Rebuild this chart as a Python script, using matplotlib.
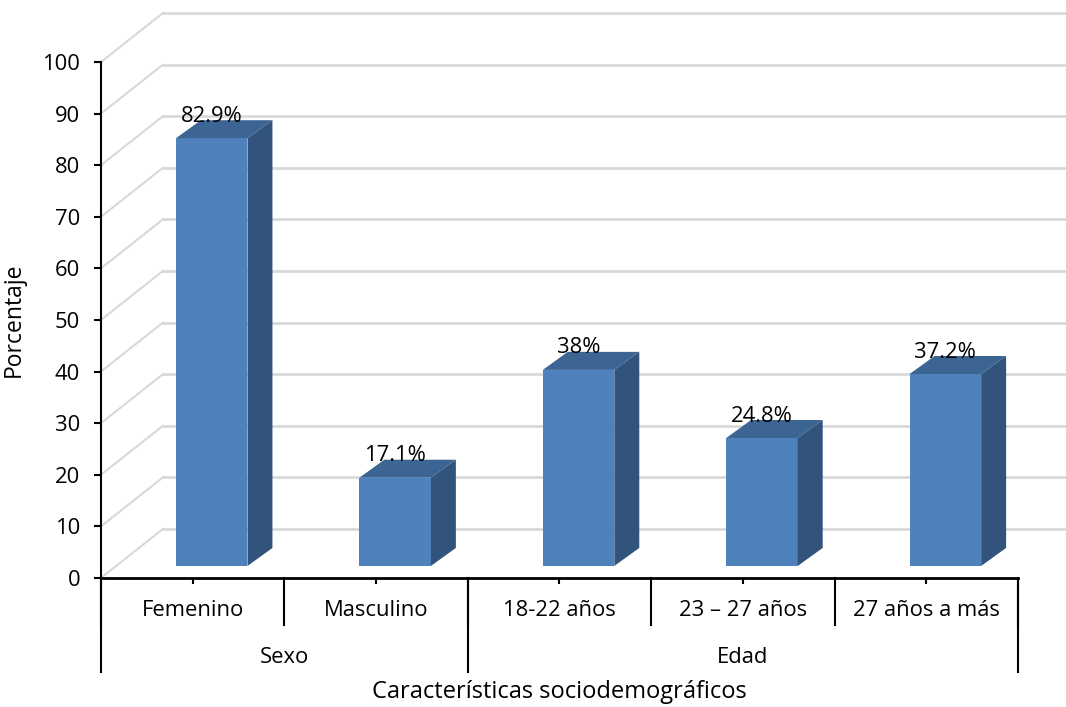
import matplotlib
matplotlib.use("Agg")
import matplotlib.pyplot as plt
import matplotlib.transforms as mtransforms
from matplotlib.patches import Polygon

# ---------------- DATA ----------------
categories = ["Femenino", "Masculino", "18-22 años", "23 – 27 años", "27 años a más"]
values = [82.9, 17.1, 38, 24.8, 37.2]
value_labels = ["82.9%", "17.1%", "38%", "24.8%", "37.2%"]
groups = ["Sexo", "Edad"]
group_sizes = [2, 3]
yticks = list(range(0, 101, 10))

# ---------------- STYLE ----------------
plt.rcParams['font.family'] = ['Open Sans', 'DejaVu Sans']
FRONT = "#4F81BD"
TOP = "#3C6594"
SIDE = "#32537B"
GRID = "#d9d9d9"
FS = 15.8

# pseudo-3D offsets (data units)
front_dx, front_dy = 0.104, 2.33   # bar front plane offset from axis plane
depth_dx, depth_dy = 0.136, 3.49   # bar depth
wall_dx, wall_dy = 0.338, 9.5      # back wall offset
bar_w = 0.39
grid_right = 5.26

fig = plt.figure(figsize=(10.66, 7.07), dpi=100)
ax = fig.add_axes([0.0947, 0.1825, 0.8603, 0.7298])
ax.set_xlim(0, len(categories))
ax.set_ylim(0, 100)

# back wall gridlines
for v in yticks:
    ax.plot([0, wall_dx], [v, v + wall_dy], color=GRID, lw=1.5, zorder=1, clip_on=False)
    ax.plot([wall_dx, grid_right], [v + wall_dy, v + wall_dy], color=GRID, lw=2, zorder=1, clip_on=False)

# bars
xs = [i + 0.5 + front_dx for i in range(len(categories))]
rects = ax.bar(xs, values, width=bar_w, bottom=front_dy, color=FRONT, zorder=3)
for rect, v, lab in zip(rects, values, value_labels):
    x0 = rect.get_x()
    x1 = x0 + rect.get_width()
    y0 = rect.get_y()
    y1 = y0 + rect.get_height()
    top = Polygon([(x0, y1), (x1, y1), (x1 + depth_dx, y1 + depth_dy), (x0 + depth_dx, y1 + depth_dy)],
                  closed=True, facecolor=TOP, edgecolor="none", zorder=3, clip_on=False)
    side = Polygon([(x1, y0), (x1 + depth_dx, y0 + depth_dy), (x1 + depth_dx, y1 + depth_dy), (x1, y1)],
                   closed=True, facecolor=SIDE, edgecolor="none", zorder=3, clip_on=False)
    ax.add_patch(top)
    ax.add_patch(side)
    ax.text((x0 + x1) / 2, y1 + depth_dy - 0.3, lab, ha='center', va='baseline',
            fontsize=FS, zorder=5, clip_on=False)

# axes
for s in ('top', 'right'):
    ax.spines[s].set_visible(False)
ax.spines['left'].set_linewidth(1.5)
ax.spines['bottom'].set_linewidth(2)
ax.set_yticks(yticks)
ax.tick_params(axis='y', direction='out', length=5, width=1.5, pad=10, labelsize=FS)
ax.set_xticks([i + 0.5 for i in range(len(categories))])
ax.set_xticklabels([])
ax.tick_params(axis='x', direction='out', length=4, width=1.5)

trans = mtransforms.blended_transform_factory(ax.transData, ax.transAxes)
# category dividers and labels
for i in range(len(categories) + 1):
    ax.plot([i, i], [0, -0.091], color='black', lw=1.5, transform=trans, clip_on=False)
for i, c in enumerate(categories):
    ax.text(i + 0.5, -0.064, c, ha='center', va='center', fontsize=FS, transform=trans)
# group dividers and labels
start = 0
ax.plot([0, 0], [0, -0.182], color='black', lw=1.5, transform=trans, clip_on=False)
for g, n in zip(groups, group_sizes):
    end = start + n
    ax.plot([end, end], [0, -0.182], color='black', lw=1.5, transform=trans, clip_on=False)
    ax.text((start + end) / 2, -0.155, g, ha='center', va='center', fontsize=FS, transform=trans)
    start = end

ax.text(0.5, -0.221, "Características sociodemográficos", ha='center', va='center',
        fontsize=17, transform=ax.transAxes)
ax.set_ylabel("Porcentaje", fontsize=16.5, labelpad=12)

fig.savefig("out.png", dpi=100)
